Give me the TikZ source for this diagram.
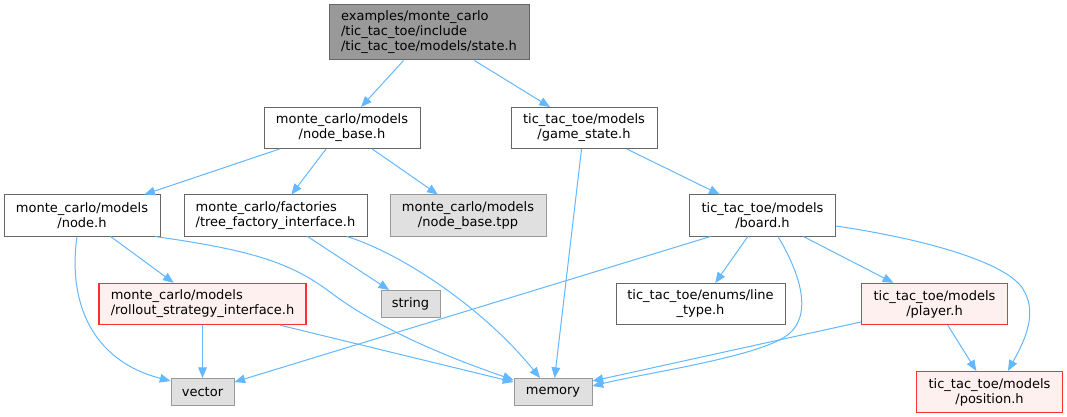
\documentclass[tikz,border=0pt]{standalone}
\usepackage{fontspec}
\setmainfont{DejaVu Sans}
\usetikzlibrary{arrows.meta,calc}
\definecolor{edgecol}{HTML}{63B8FF}
\definecolor{boxdraw}{HTML}{666666}
\definecolor{extdraw}{HTML}{999999}
\definecolor{extfill}{HTML}{E0E0E0}
\definecolor{hdrfill}{HTML}{999999}
\definecolor{redfill}{HTML}{FFF0F0}
\definecolor{reddraw}{HTML}{FF3030}
\newdimen\px \px=0.75pt
\begin{document}
\begin{tikzpicture}[x=0.75pt,y=-0.75pt,
  basebox/.style={rectangle, inner sep=0pt, line width=0.75pt, font=\fontsize{9.75}{11.25}\selectfont, align=center},
  plainbox/.style={basebox, draw=boxdraw, fill=white},
  hdrbox/.style={basebox, draw=boxdraw, fill=hdrfill, align=left},
  extbox/.style={basebox, draw=extdraw, fill=extfill},
  redbox/.style={basebox, draw=reddraw, fill=redfill, line width=1pt},
  dep/.style={draw=edgecol, line width=0.75pt, -{Triangle[length=8pt,width=6.5pt]}}]
\useasboundingbox (0,0) rectangle (1067,417);
\fill[white] (0,0) rectangle (1067,417);

\node[hdrbox, minimum width=200\px, minimum height=55\px] (state) at (429,32.5)
  {examples/monte\_carlo\\/tic\_tac\_toe/include\\/tic\_tac\_toe/models/state.h};
\node[plainbox, minimum width=156\px, minimum height=41\px] (nodebase) at (342,128)
  {monte\_carlo/models\\/node\_base.h};
\node[plainbox, minimum width=146\px, minimum height=41\px] (gamestate) at (584,128)
  {tic\_tac\_toe/models\\/game\_state.h};
\node[plainbox, minimum width=156\px, minimum height=41\px] (nodeh) at (82,215.5)
  {monte\_carlo/models\\/node.h};
\node[plainbox, align=left, minimum width=183\px, minimum height=41\px] (tree) at (275.5,215.5)
  {monte\_carlo/factories\\/tree\_factory\_interface.h};
\node[extbox, minimum width=156\px, minimum height=41\px] (tpp) at (468,215.5)
  {monte\_carlo/models\\/node\_base.tpp};
\node[plainbox, minimum width=146\px, minimum height=41\px] (board) at (762.5,215.5)
  {tic\_tac\_toe/models\\/board.h};
\node[redbox, align=left, minimum width=207\px, minimum height=41\px] (rollout) at (202.5,304)
  {monte\_carlo/models\\/rollout\_strategy\_interface.h};
\node[extbox, minimum width=59\px, minimum height=27\px] (string) at (410.5,304) {string};
\node[plainbox, minimum width=169\px, minimum height=41\px] (linetype) at (700.5,304)
  {tic\_tac\_toe/enums/line\\\_type.h};
\node[redbox, minimum width=146\px, minimum height=41\px] (player) at (934.5,304)
  {tic\_tac\_toe/models\\/player.h};
\node[extbox, minimum width=63\px, minimum height=27\px] (vector) at (202.5,392) {vector};
\node[extbox, minimum width=78\px, minimum height=27\px] (memory) at (553,392) {memory};
\node[redbox, minimum width=146\px, minimum height=41\px] (position) at (989.5,392)
  {tic\_tac\_toe/models\\/position.h};

\draw[dep] (state) -- (nodebase);
\draw[dep] (state) -- (gamestate);
\draw[dep] (nodebase) -- (nodeh);
\draw[dep] (nodebase) -- (tree);
\draw[dep] (nodebase) -- (tpp);
\draw[dep] (gamestate) -- (memory);
\draw[dep] (gamestate) -- (board);
\draw[dep] ($(nodeh.south)+(-5,0)$) .. controls (68,300) and (90,360) .. ($(vector.west)+(0,-11)$);
\draw[dep] (nodeh) -- (rollout);
\draw[dep] ($(nodeh.south)+(73,0)$) .. controls (250,250) and (290,262) .. (330,292)
  .. controls (380,330) and (450,358) .. ($(memory.west)+(0,-12)$);
\draw[dep] (tree) -- (string);
\draw[dep] ($(tree.south)+(71.5,0)$) .. controls (405,255) and (485,310) .. ($(memory.north)+(-13,0)$);
\draw[dep] (rollout) -- (vector);
\draw[dep] ($(rollout.south)+(77.5,0)$) -- ($(memory.west)+(0,-10)$);
\draw[dep] ($(board.south)+(-52,0)$) -- ($(vector.east)+(0,-10)$);
\draw[dep] (board) -- (linetype);
\draw[dep] ($(board.south)+(15.5,0)$) .. controls (795,265) and (815,310) .. (790,333)
  .. controls (765,356) and (650,372) .. ($(memory.east)+(0,-6)$);
\draw[dep] (board) -- (player);
\draw[dep] ($(board.east)+(0,10.5)$) .. controls (930,240) and (1000,262) .. (1020,285)
  .. controls (1040,310) and (1025,340) .. ($(position.north)+(18.5,0)$);
\draw[dep] ($(player.west)+(0,18)$) -- ($(memory.east)+(0,-11)$);
\draw[dep] (player) -- (position);
\end{tikzpicture}
\end{document}
